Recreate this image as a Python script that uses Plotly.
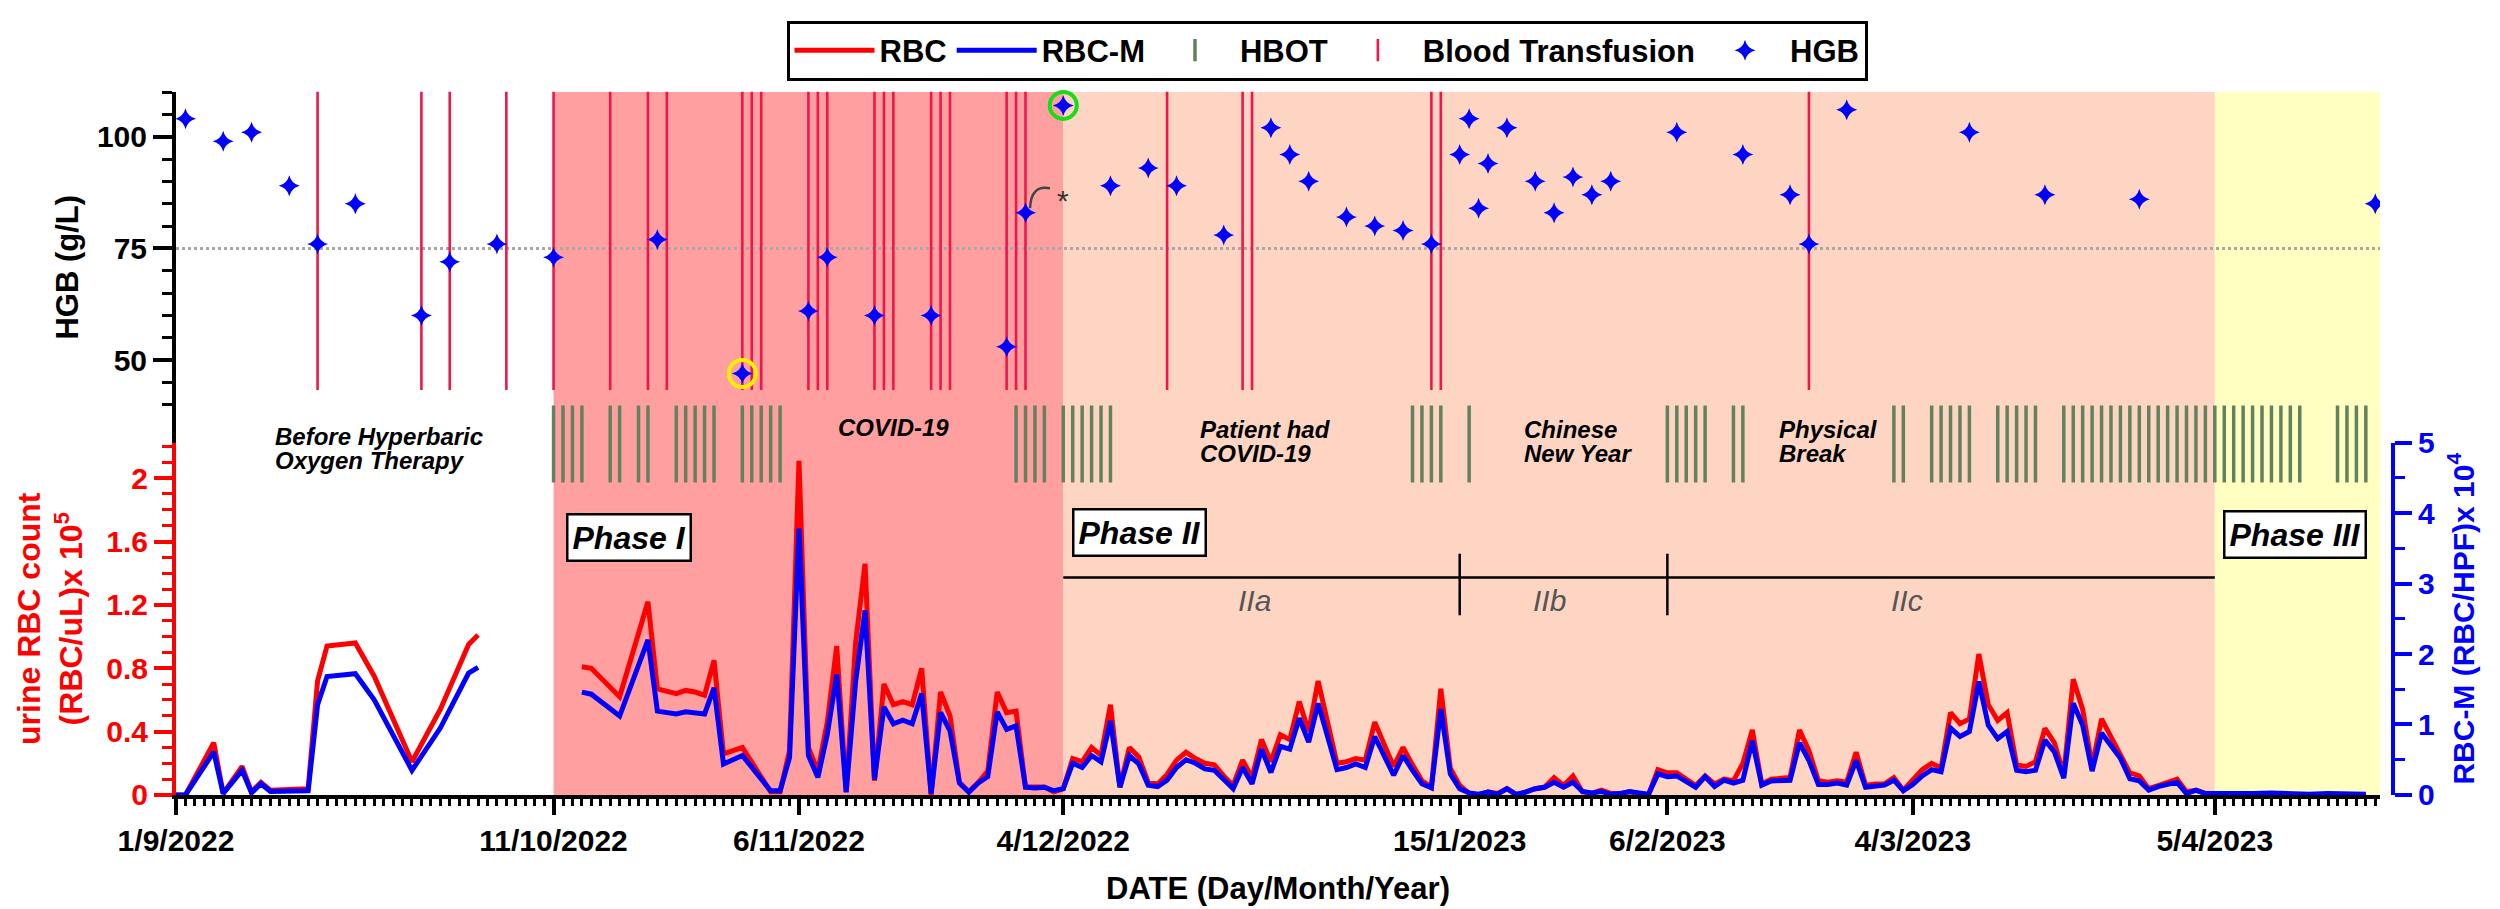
import pandas as pd
import plotly.graph_objects as go

# x values are stored as days since 1/9/2022 (the first tick of the axis)
START = pd.Timestamp("2022-09-01")
X_END_DAY = 233.5

# HGB (g/L)
hgb_day = [1, 5, 8, 12, 15, 19, 26, 29, 34, 40, 51, 60, 67, 69, 74, 80, 88, 90, 94,
           99, 103, 106, 111, 116, 118, 120, 124, 127, 130, 133, 136, 137, 138, 139,
           141, 144, 146, 148, 150, 152, 159, 166, 171, 173, 177, 190, 198, 208, 233]
hgb = [104, 99, 101, 89, 76, 85, 60, 72, 76, 73, 77, 47, 61, 73, 60, 60, 53, 83, 107,
       89, 93, 89, 78, 102, 96, 90, 82, 80, 79, 76, 96, 104, 84, 94,
       102, 90, 83, 91, 87, 90, 101, 96, 87, 76, 106, 101, 87, 86, 85]

# days with a blood transfusion
transfusion_day = [15, 26, 29, 35, 40, 46, 50, 52, 60, 61, 62, 67, 68, 69, 74, 75, 76,
                   80, 81, 82, 88, 89, 90, 105, 113, 114, 133, 134, 173]

# days with a hyperbaric oxygen session
hbot_day = [40, 41, 42, 43, 46, 47, 49, 50, 53, 54, 55, 56, 57, 60, 61, 62, 63, 64,
            89, 90, 91, 92, 94, 95, 96, 97, 98, 99, 131, 132, 133, 134, 137,
            158, 159, 160, 161, 162, 165, 166, 182, 183, 186, 187, 188, 189, 190,
            193, 194, 195, 196, 197, 200, 201, 202, 203, 204, 205, 206, 207, 208,
            209, 210, 211, 212, 213, 214, 215, 216, 217, 218, 219, 220, 221, 222,
            223, 224, 225, 229, 230, 231, 232]

# urine RBC (x10^5 /uL) and RBC-M (x10^4 /HPF); None = no samples (line break)
rbc_day = [0, 1, 4, 5, 7, 8, 9, 10, 14, 15, 16, 19, 21, 25, 28, 31, 32, 36,
           43, 44, 47, 50, 51, 53, 54, 55, 56, 57, 58, 60, 63, 64, 65, 66, 67, 68, 69,
           70, 71, 72, 73, 74, 75, 76, 77, 78, 79, 80, 81, 82, 83, 84, 85, 86, 87, 88,
           89, 90, 91, 92, 93, 94, 95, 96, 97, 98, 99, 100, 101, 102, 103, 104, 105,
           106, 107, 108, 109, 110, 111, 112, 113, 114, 115, 116, 117, 118, 119, 120,
           121, 123, 124, 125, 126, 127, 129, 130, 131, 132, 133, 134, 135, 136, 137,
           138, 139, 140, 141, 142, 143, 144, 145, 146, 147, 148, 149, 150, 151, 152,
           153, 154, 155, 156, 157, 158, 159, 160, 161, 162, 163, 164, 165, 166, 167,
           168, 169, 171, 172, 173, 174, 175, 176, 177, 178, 179, 180, 181, 182, 183,
           184, 185, 186, 187, 188, 189, 190, 191, 192, 193, 194, 195, 196, 197, 198,
           199, 200, 201, 202, 203, 204, 205, 206, 207, 208, 209, 210, 211, 212, 213,
           214, 215, 216, 218, 220, 222, 224, 226, 228, 230, 232]
rbc = [0.0, 0.0, 0.33, 0.01, 0.18, 0.02, 0.08, 0.03, 0.04, 0.72, 0.94, 0.96, 0.75, 0.21,
       0.54, 0.95, 1.01, None,
       0.81, 0.80, 0.62, 1.22, 0.67, 0.64, 0.66, 0.65, 0.63, 0.85, 0.26, 0.30, 0.02, 0.02,
       0.28, 2.11, 0.30, 0.15, 0.46, 0.94, 0.02, 0.96, 1.46, 0.09, 0.70, 0.57, 0.59, 0.57,
       0.80, 0.00, 0.65, 0.50, 0.08, 0.02, 0.08, 0.15, 0.65, 0.52, 0.53, 0.05, 0.05, 0.05,
       0.02, 0.04, 0.23, 0.21, 0.30, 0.25, 0.57, 0.05, 0.30, 0.24, 0.08, 0.07, 0.13, 0.22,
       0.27, 0.23, 0.20, 0.19, 0.12, 0.06, 0.22, 0.11, 0.35, 0.21, 0.38, 0.35, 0.59, 0.40,
       0.72, 0.20, 0.21, 0.23, 0.22, 0.46, 0.18, 0.30, 0.19, 0.09, 0.05, 0.67, 0.17, 0.06,
       0.01, 0.00, 0.02, 0.01, 0.04, 0.00, 0.02, 0.04, 0.05, 0.11, 0.06, 0.12, 0.02, 0.01,
       0.03, 0.01, 0.01, 0.02, 0.01, 0.00, 0.16, 0.14, 0.14, 0.10, 0.06, 0.12, 0.07, 0.10,
       0.09, 0.20, 0.41, 0.07, 0.10, 0.11, 0.41, 0.28, 0.09, 0.08, 0.09, 0.08, 0.27, 0.06,
       0.07, 0.07, 0.11, 0.03, 0.09, 0.16, 0.20, 0.17, 0.52, 0.45, 0.48, 0.89, 0.57, 0.47,
       0.52, 0.19, 0.18, 0.21, 0.42, 0.33, 0.13, 0.73, 0.54, 0.18, 0.48, 0.37, 0.26, 0.14,
       0.12, 0.04, 0.06, 0.08, 0.10, 0.02, 0.03, 0.01, 0.00, 0.00, 0.00, 0.01, 0.00, 0.00,
       0.00, 0.00, 0.00]
rbc_m = [0.0, 0.0, 0.61, 0.02, 0.35, 0.03, 0.16, 0.05, 0.06, 1.28, 1.68, 1.72, 1.35, 0.35,
         0.95, 1.73, 1.81, None,
         1.46, 1.43, 1.12, 2.20, 1.19, 1.15, 1.18, 1.17, 1.15, 1.52, 0.44, 0.56, 0.06, 0.06,
         0.53, 3.78, 0.56, 0.25, 0.86, 1.71, 0.04, 1.61, 2.62, 0.22, 1.25, 1.01, 1.06, 1.01,
         1.44, 0.02, 1.17, 0.91, 0.17, 0.04, 0.17, 0.26, 1.18, 0.93, 0.98, 0.11, 0.10, 0.11,
         0.06, 0.09, 0.45, 0.39, 0.56, 0.47, 1.05, 0.11, 0.56, 0.44, 0.14, 0.12, 0.21, 0.39,
         0.50, 0.45, 0.37, 0.35, 0.23, 0.09, 0.39, 0.16, 0.65, 0.32, 0.69, 0.65, 1.09, 0.75,
         1.30, 0.36, 0.39, 0.44, 0.39, 0.83, 0.28, 0.56, 0.35, 0.16, 0.10, 1.22, 0.30, 0.09,
         0.03, 0.01, 0.04, 0.01, 0.09, 0.01, 0.04, 0.09, 0.11, 0.18, 0.11, 0.18, 0.05, 0.03,
         0.05, 0.01, 0.02, 0.05, 0.03, 0.01, 0.30, 0.26, 0.27, 0.18, 0.11, 0.26, 0.12, 0.21,
         0.17, 0.21, 0.77, 0.14, 0.20, 0.21, 0.74, 0.49, 0.15, 0.15, 0.17, 0.14, 0.49, 0.11,
         0.13, 0.14, 0.21, 0.06, 0.15, 0.27, 0.36, 0.33, 0.95, 0.83, 0.90, 1.61, 0.99, 0.80,
         0.90, 0.35, 0.33, 0.35, 0.78, 0.61, 0.24, 1.30, 0.99, 0.34, 0.88, 0.71, 0.52, 0.23,
         0.20, 0.07, 0.12, 0.15, 0.18, 0.02, 0.07, 0.02, 0.02, 0.01, 0.02, 0.03, 0.02, 0.01,
         0.02, 0.01, 0.01]

# highlighted HGB values (lowest / highest)
ring_day = [60, 94]
ring_color = ["#F4F000", "#18DC18"]

tick_dates = ["2022-09-01", "2022-10-11", "2022-11-06", "2022-12-04",
              "2023-01-15", "2023-02-06", "2023-03-04", "2023-04-05"]
tick_text = ["1/9/2022", "11/10/2022", "6/11/2022", "4/12/2022",
             "15/1/2023", "6/2/2023", "4/3/2023", "5/4/2023"]

phase_start = ["2022-10-11", "2022-12-04", "2023-04-05"]
phase_color = ["#FF9F9F", "#FED5C2", "#FFFFC2"]
subphase_edges = ["2022-12-04", "2023-01-15", "2023-02-06", "2023-04-05"]

FONT = "Arial, Liberation Sans, sans-serif"
RED = "#FF0000"
BLUE = "#0000FF"
GREEN = "#62825F"
CRIMSON = "#F0154A"

W, H = 2500, 909
L, R, T, B = 168, 115, 79, 122
PW, PH = W - L - R, H - T - B
X_DOM_END = (2372 - L) / PW
SPLIT = (H - B - 432) / PH
HGB_RANGE = [110 - (432 - T) / 4.5, 110]
RBC_RANGE = [0, 2.225]


def to_date(days):
    return [START + pd.Timedelta(days=v) for v in days]


def px(xp):
    return (xp - L) / PW


def py(yp):
    return (H - B - yp) / PH


x_end = START + pd.Timedelta(days=X_END_DAY)

fig = go.Figure()

fig.add_trace(go.Scatter(
    x=to_date(rbc_day), y=rbc, yaxis="y3", mode="lines", name="RBC",
    line=dict(color=RED, width=5)
))
fig.add_trace(go.Scatter(
    x=to_date(rbc_day), y=rbc_m, yaxis="y2", mode="lines", name="RBC-M",
    line=dict(color=BLUE, width=5)
))
# HBOT sessions: short vertical bars in the strip between the two panels
hbot_y = RBC_RANGE[1] * (H - B - 433.5) / (PH * SPLIT)
fig.add_trace(go.Scatter(
    x=to_date(hbot_day), y=[hbot_y] * len(hbot_day), yaxis="y3", mode="markers",
    name="HBOT", cliponaxis=False,
    marker=dict(symbol="line-ns", size=55, color=GREEN, line=dict(width=3.5, color=GREEN))
))
tx_y = 110 - (229 - T) / 4.5
fig.add_trace(go.Scatter(
    x=to_date(transfusion_day), y=[tx_y] * len(transfusion_day), yaxis="y",
    mode="markers", name="Blood Transfusion", cliponaxis=False,
    marker=dict(symbol="line-ns", size=213, color=CRIMSON, line=dict(width=2.6, color=CRIMSON))
))
fig.add_trace(go.Scatter(
    x=to_date(hgb_day), y=hgb, yaxis="y", mode="markers", name="HGB",
    marker=dict(symbol="star-diamond", size=15, color=BLUE)
))
fig.add_trace(go.Scatter(
    x=to_date(ring_day), y=[hgb[hgb_day.index(d)] for d in ring_day], yaxis="y",
    mode="markers", showlegend=False, cliponaxis=False,
    marker=dict(symbol="circle-open", size=27, color=ring_color,
                line=dict(width=4, color=ring_color))
))

shapes = []
phase_end = phase_start[1:] + [x_end]
for s, e, c in zip(phase_start, phase_end, phase_color):
    shapes.append(dict(type="rect", xref="x", yref="paper", x0=s, x1=e, y0=0, y1=1,
                       fillcolor=c, line=dict(width=0), layer="below"))
shapes.append(dict(type="line", xref="paper", yref="y", x0=0, x1=X_DOM_END, y0=75, y1=75,
                   line=dict(color="#A8A8A8", width=3, dash="dot"), layer="below"))
# phase II sub-periods bracket
shapes.append(dict(type="line", xref="x", yref="paper", x0=subphase_edges[0], x1=subphase_edges[-1],
                   y0=py(568), y1=py(568), line=dict(color="black", width=2.5)))
for e in subphase_edges[1:3]:
    shapes.append(dict(type="line", xref="x", yref="paper", x0=e, x1=e, y0=py(544), y1=py(606),
                       line=dict(color="black", width=2.5)))
# little hook pointing to the starred HGB value
shapes.append(dict(type="path", xref="paper", yref="paper",
                   path=f"M {px(1022)},{py(196)} Q {px(1023)},{py(172)} {px(1042)},{py(176)}",
                   line=dict(color="#444444", width=2.5)))

ann = []


def label(text, xp, yp, size=24, anchor="left", color="black", weight="bold", style="italic"):
    ann.append(dict(text=text, x=px(xp), y=py(yp), xref="paper", yref="paper",
                    xanchor=anchor, yanchor="middle", showarrow=False,
                    font=dict(family=FONT, size=size, color=color, weight=weight, style=style)))


label("Before Hyperbaric", 265, 426)
label("Oxygen Therapy", 265, 450)
label("COVID-19", 885, 417, anchor="center")
label("Patient had", 1190, 419)
label("COVID-19", 1190, 443)
label("Chinese", 1514, 419)
label("New Year", 1514, 443)
label("Physical", 1769, 419)
label("Break", 1769, 443)
label("IIa", 1246, 591, size=30, anchor="center", color="#555555", weight="normal")
label("IIb", 1541, 591, size=30, anchor="center", color="#555555", weight="normal")
label("IIc", 1899, 591, size=30, anchor="center", color="#555555", weight="normal")
label("*", 1055, 188, size=30, anchor="center", color="#333333", weight="normal", style="normal")

for text, xp, yp in [("Phase I", 621, 528), ("Phase II", 1131, 523), ("Phase III", 2287, 525)]:
    ann.append(dict(text=text, x=px(xp), y=py(yp), xref="paper", yref="paper",
                    xanchor="center", yanchor="middle", showarrow=False,
                    bgcolor="white", bordercolor="black", borderwidth=2.5, borderpad=4,
                    font=dict(family=FONT, size=32, color="black", weight="bold", style="italic")))

tick_font = dict(family=FONT, size=30, weight="bold")


def axis_title(text, size, color, standoff):
    return dict(text=text, standoff=standoff,
                font=dict(family=FONT, size=size, color=color, weight="bold"))


fig.update_layout(
    width=W, height=H,
    margin=dict(l=L, r=R, t=T, b=B),
    paper_bgcolor="white", plot_bgcolor="rgba(0,0,0,0)",
    shapes=shapes, annotations=ann,
    showlegend=True,
    legend=dict(orientation="h", x=px(1319), y=py(7), xanchor="center", yanchor="top",
                bgcolor="white", bordercolor="black", borderwidth=3,
                font=dict(family=FONT, size=31, color="black", weight="bold"),
                itemwidth=80, tracegroupgap=0),
    xaxis=dict(
        type="date", domain=[0, X_DOM_END], anchor="y3",
        range=[START, x_end],
        title=axis_title("DATE (Day/Month/Year)", 31, "black", 22),
        tickmode="array", tickvals=tick_dates, ticktext=tick_text,
        ticks="outside", ticklen=16, tickwidth=4, tickcolor="black",
        tickfont=dict(color="black", **tick_font),
        minor=dict(tickmode="linear", tick0="2022-09-01", dtick=86400000,
                   ticks="outside", ticklen=7, tickwidth=2.5, tickcolor="black", showgrid=False),
        showline=True, linewidth=4, linecolor="black",
        showgrid=False, zeroline=False,
    ),
    yaxis=dict(
        domain=[SPLIT, 1], anchor="x", range=HGB_RANGE,
        title=axis_title("HGB (g/L)", 31, "black", 10),
        tickmode="array", tickvals=[50, 75, 100],
        ticks="outside", ticklen=19, tickwidth=4, tickcolor="black",
        tickfont=dict(color="black", **tick_font),
        minor=dict(tickmode="array", tickvals=[40, 45, 55, 60, 65, 70, 80, 85, 90, 95, 105, 110],
                   ticks="outside", ticklen=10, tickwidth=3, tickcolor="black", showgrid=False),
        showline=True, linewidth=4, linecolor="black",
        showgrid=False, zeroline=False,
    ),
    yaxis3=dict(
        domain=[0, SPLIT], anchor="x", range=RBC_RANGE,
        title=axis_title("urine RBC count<br>(RBC/uL)x 10<sup>5</sup>", 32, RED, 15),
        tickmode="array", tickvals=[0, 0.4, 0.8, 1.2, 1.6, 2],
        ticktext=["0", "0.4", "0.8", "1.2", "1.6", "2"],
        ticks="outside", ticklen=18, tickwidth=4, tickcolor=RED,
        tickfont=dict(color=RED, **tick_font),
        minor=dict(tickmode="linear", tick0=0, dtick=0.1,
                   ticks="outside", ticklen=10, tickwidth=3, tickcolor=RED, showgrid=False),
        showline=True, linewidth=4, linecolor=RED,
        showgrid=False, zeroline=False,
    ),
    yaxis2=dict(
        overlaying="y3", side="right", anchor="free", position=1, range=[0, 5],
        title=axis_title("RBC-M (RBC/HPF)x 10<sup>4</sup>", 30, BLUE, 18),
        tickmode="array", tickvals=[0, 1, 2, 3, 4, 5],
        ticks="outside", ticklen=17, tickwidth=4, tickcolor=BLUE,
        tickfont=dict(color=BLUE, **tick_font),
        minor=dict(tickmode="linear", tick0=0, dtick=0.5,
                   ticks="outside", ticklen=10, tickwidth=3, tickcolor=BLUE, showgrid=False),
        showline=True, linewidth=4, linecolor=BLUE,
        showgrid=False, zeroline=False,
    ),
)

fig.write_html("out.html")
